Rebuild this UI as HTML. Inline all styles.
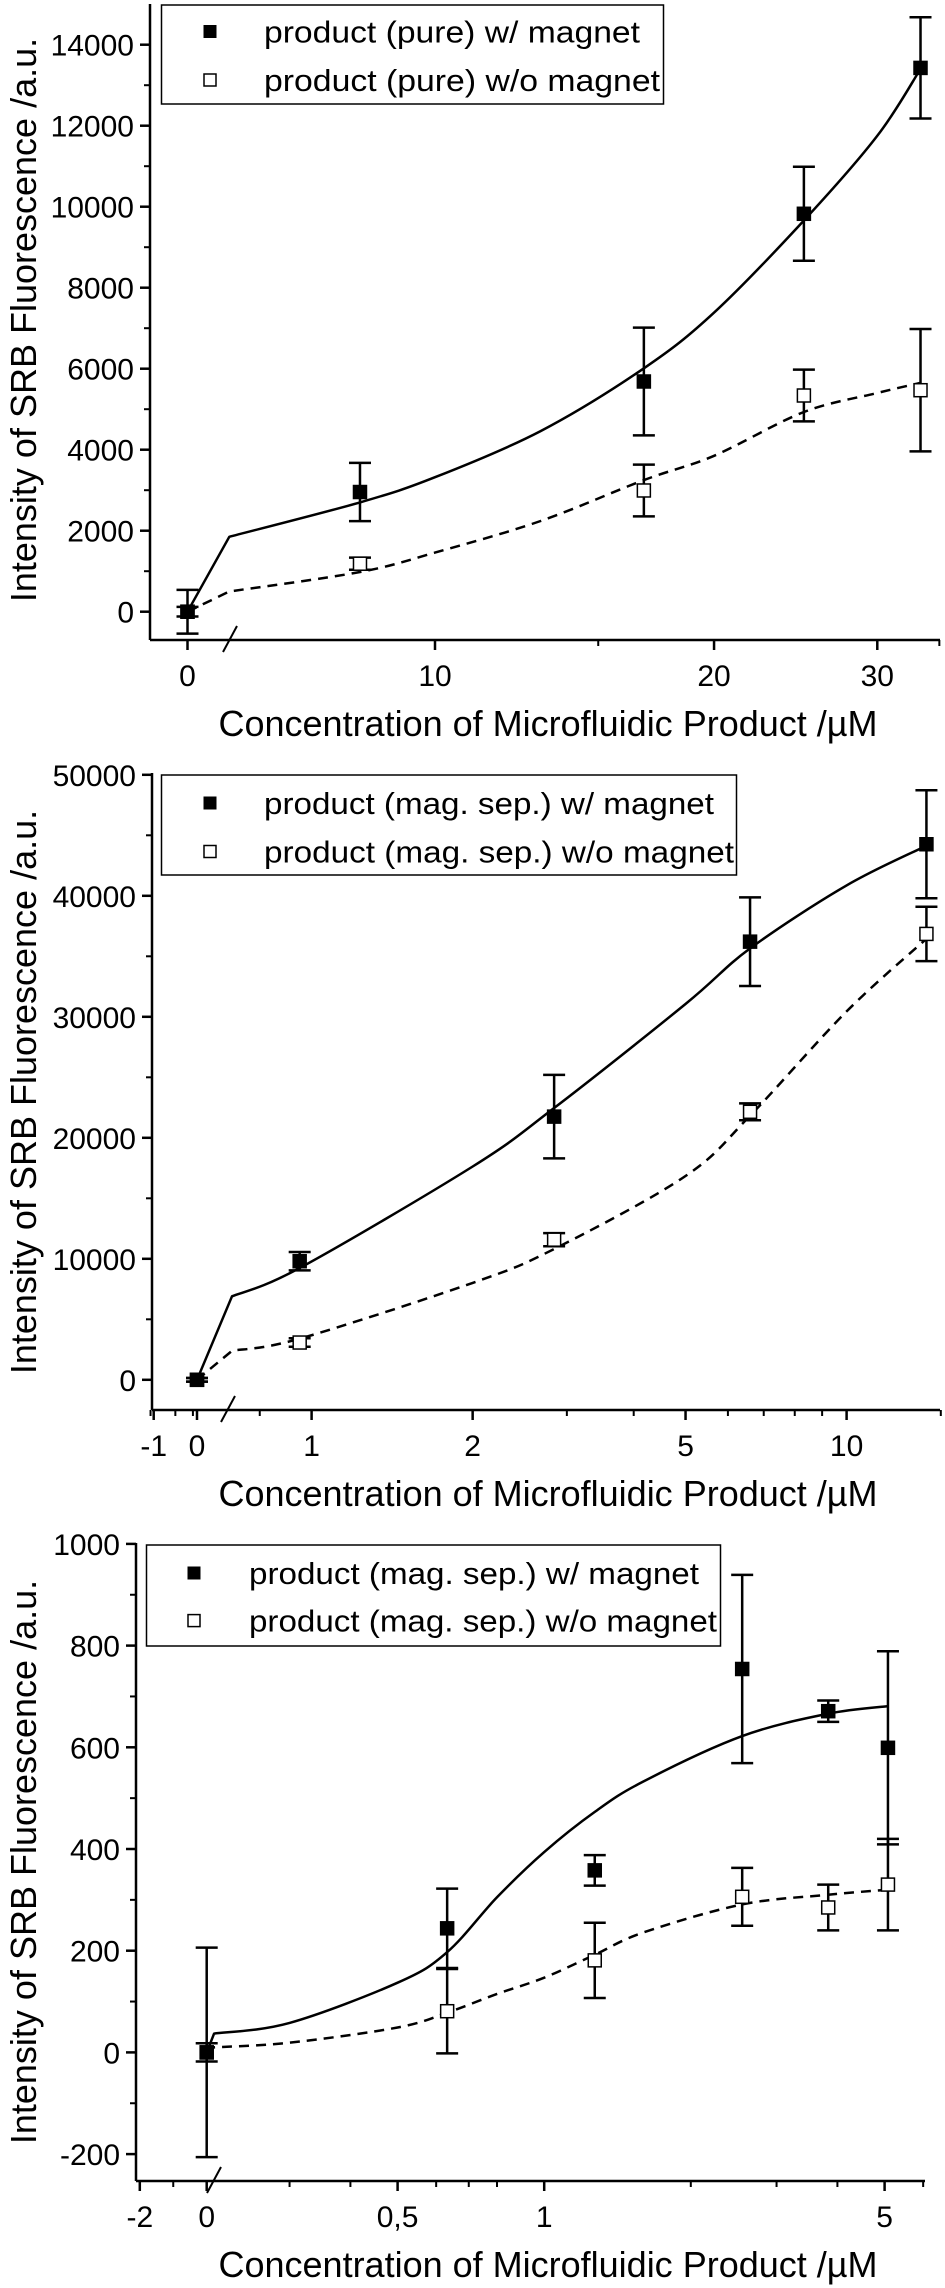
<!DOCTYPE html>
<html><head><meta charset="utf-8"><style>
html,body{margin:0;padding:0;background:#fff}
svg{display:block}
text{font-family:"Liberation Sans",sans-serif;fill:#000}
</style></head><body>
<svg id="c" width="945" height="2288" viewBox="0 0 945 2288" xmlns="http://www.w3.org/2000/svg"></svg>
<script>
// ---- Panel 1 data (pure product) ----
const p1X = [0, 8.3, 16.8, 25, 33.4];
const p1With = [0, 2955, 5684, 9825, 13427];
const p1WithErr = [540, 720, 1330, 1160, 1250];
const p1Without = [0, 1185, 2993, 5338, 5469];
const p1WithoutErr = [120, 150, 640, 640, 1510];
const p1FitX = [0, 6, 8.3, 10, 13, 16.8, 20, 25, 30, 33.4];
const p1FitWith = [0, 1850, 2700, 3320, 4460, 6010, 7385, 9660, 11750, 13400];
const p1FitWithout = [0, 500, 980, 1460, 2240, 3250, 3850, 4930, 5400, 5650];
const p1YTicks = [0, 2000, 4000, 6000, 8000, 10000, 12000, 14000];
const p1XTicks = [0, 10, 20, 30];
// ---- Panel 2 data (mag. sep.) ----
const p2X = [0, 0.95, 2.84, 6.6, 14.1];
const p2With = [0, 9800, 21750, 36210, 44260];
const p2WithErr = [150, 760, 3450, 3660, 4460];
const p2Without = [0, 3080, 11580, 22150, 36850];
const p2WithoutErr = [150, 350, 540, 700, 2250];
const p2FitX = [0, 0.71, 0.95, 2, 2.84, 5, 6.6, 10, 14.1];
const p2FitWith = [0, 6900, 9240, 17630, 22460, 31060, 35650, 40860, 44140];
const p2FitWithout = [0, 2400, 3400, 8010, 10810, 16840, 21830, 30450, 36450];
const p2YTicks = [0, 10000, 20000, 30000, 40000, 50000];
const p2XTicks = [-1, 0, 1, 2, 5, 10];
// ---- Panel 3 data (mag. sep., low) ----
const p3X = [0, 0.632, 1.27, 2.55, 3.83, 5.08];
const p3With = [0, 244, 358, 754, 671, 599];
const p3WithErr = [206, 78, 30, 185, 21, 190];
const p3Without = [0, 81, 181, 306, 285, 330];
const p3WithoutErr = [18, 83, 74, 57, 45, 90];
const p3FitX = [0, 0.21, 0.3, 0.5, 0.632, 0.8, 1, 1.27, 1.6, 2.55, 3.83, 5.08];
const p3FitWith = [0, 37, 58, 137, 197, 305, 394, 473, 533, 622, 666, 681];
const p3FitWithout = [0, 10, 19, 49, 78, 115, 147, 192, 236, 291, 310, 320];
const p3YTicks = [-200, 0, 200, 400, 600, 800, 1000];
const p3XTicks = [-2, 0, 0.5, 1, 5];

const NS = "http://www.w3.org/2000/svg";
const svg = document.getElementById('c');
function mk(tag, attrs, parent, txt) {
  const e = document.createElementNS(NS, tag);
  for (const k in attrs) e.setAttribute(k, attrs[k]);
  if (txt !== undefined) e.textContent = txt;
  (parent || svg).appendChild(e);
  return e;
}

function smoothPath(pts) {
  // first segment straight, rest Catmull-Rom
  let d = 'M' + pts[0][0].toFixed(1) + ',' + pts[0][1].toFixed(1) + ' L' + pts[1][0].toFixed(1) + ',' + pts[1][1].toFixed(1);
  for (let i = 1; i < pts.length - 1; i++) {
    const p0 = pts[Math.max(1, i - 1)], p1 = pts[i], p2 = pts[i + 1], p3 = pts[Math.min(pts.length - 1, i + 2)];
    const c1x = p1[0] + (p2[0] - p0[0]) / 6, c1y = p1[1] + (p2[1] - p0[1]) / 6;
    const c2x = p2[0] - (p3[0] - p1[0]) / 6, c2y = p2[1] - (p3[1] - p1[1]) / 6;
    d += ` C${c1x.toFixed(1)},${c1y.toFixed(1)} ${c2x.toFixed(1)},${c2y.toFixed(1)} ${p2[0].toFixed(1)},${p2[1].toFixed(1)}`;
  }
  return d;
}

function panel(cfg) {
  const g = mk('g', {});
  
  
  const xs = v => {
    if (v <= 0) return cfg.x0 + v * cfg.linPx;
    return cfg.refPx + (Math.log10(v) - Math.log10(cfg.refV)) * cfg.decPx;
  };
  const ys = v => cfg.y0 - v * cfg.yPx;
  const axisX = cfg.axL, axisY = cfg.axY;
  const ya = mk('line', {x1: axisX, y1: cfg.axTop, x2: axisX, y2: axisY, stroke: '#000', 'stroke-width': 2.5}, g);
   
  const xa = mk('line', {x1: axisX, y1: axisY, x2: cfg.axR, y2: axisY, stroke: '#000', 'stroke-width': 2.5}, g);
   
  cfg.yTicks.forEach(v => {
    const y = ys(v);
    mk('line', {x1: axisX - 10, y1: y, x2: axisX, y2: y, stroke: '#000', 'stroke-width': 2.5}, g);
    const t = mk('text', {x: axisX - 16, y: y + 11, 'text-anchor': 'end', 'font-size': 30}, g, String(v));
     
  });
  for (let i = 0; i < cfg.yTicks.length - 1; i++) {
    const y = ys((cfg.yTicks[i] + cfg.yTicks[i + 1]) / 2);
    mk('line', {x1: axisX - 6, y1: y, x2: axisX, y2: y, stroke: '#000', 'stroke-width': 2}, g);
  }
  cfg.xTicks.forEach((v, i) => {
    const x = xs(v);
    mk('line', {x1: x, y1: axisY, x2: x, y2: axisY + 10, stroke: '#000', 'stroke-width': 2.5}, g);
    const t = mk('text', {x: x, y: axisY + 46, 'text-anchor': 'middle', 'font-size': 30}, g, cfg.xLabels[i]);
     
  });
  cfg.xMinor.forEach(v => {
    const x = xs(v);
    mk('line', {x1: x, y1: axisY, x2: x, y2: axisY + 6, stroke: '#000', 'stroke-width': 2}, g);
  });
  const b = mk('line', {x1: cfg.brk - 7, y1: axisY + 12, x2: cfg.brk + 7, y2: axisY - 14, stroke: '#000', 'stroke-width': 2}, g);
   
  const yt = mk('text', {x: 0, y: 0, 'text-anchor': 'middle', 'font-size': 36, transform: `translate(${cfg.yTitleX},${cfg.yTitleY}) rotate(-90)`}, g, 'Intensity of SRB Fluorescence /a.u.');
   
  const xt = mk('text', {x: 548, y: axisY + 96, 'text-anchor': 'middle', 'font-size': 36}, g, 'Concentration of Microfluidic Product /\u00b5M');
   
  const pts = (xa, ya2) => xa.map((v, i) => [xs(v), ys(ya2[i])]);
  const f1 = mk('path', {d: smoothPath(pts(cfg.fitX, cfg.fitWith)), fill: 'none', stroke: '#000', 'stroke-width': 2.5, 'stroke-linejoin': 'round'}, g);
   
  const f2 = mk('path', {d: smoothPath(pts(cfg.fitX, cfg.fitWithout)), fill: 'none', stroke: '#000', 'stroke-width': 2.5, 'stroke-dasharray': '10,7'}, g);
   
  const series = (vals, errs, filled, nm) => {
    cfg.x.forEach((xv, i) => {
      const x = xs(xv), y = ys(vals[i]), yh = ys(vals[i] + errs[i]), yl = ys(vals[i] - errs[i]);
      const eb = mk('path', {d: `M${x},${yh} L${x},${yl} M${x - 11},${yh} L${x + 11},${yh} M${x - 11},${yl} L${x + 11},${yl}`, stroke: '#000', 'stroke-width': 2.5, fill: 'none'}, g);
       
      const r = mk('rect', {x: x - 6.5, y: y - 6.5, width: 13, height: 13, fill: filled ? '#000' : '#fff', stroke: '#000', 'stroke-width': 1.5}, g);
       
    });
  };
  series(cfg.without, cfg.withoutErr, false, 'without-magnet');
  series(cfg.with, cfg.withErr, true, 'with-magnet');
  const L = cfg.leg;
  const lg = mk('g', {}, g);
   
  mk('rect', {x: L.x, y: L.y, width: L.w, height: L.h, fill: '#fff', stroke: '#000', 'stroke-width': 1.5}, lg);
  const e1 = mk('g', {}, lg);
   
  mk('rect', {x: L.mx - 6.5, y: L.r1 - 6.5, width: 13, height: 13, fill: '#000'}, e1);
  mk('text', {x: L.tx, y: L.r1 + 11, 'font-size': 31, textLength: L.tl1, lengthAdjust: 'spacingAndGlyphs'}, e1, cfg.lab1);
  const e2 = mk('g', {}, lg);
   
  mk('rect', {x: L.mx - 6, y: L.r2 - 6, width: 12, height: 12, fill: '#fff', stroke: '#000', 'stroke-width': 1.5}, e2);
  mk('text', {x: L.tx, y: L.r2 + 11, 'font-size': 31, textLength: L.tl2, lengthAdjust: 'spacingAndGlyphs'}, e2, cfg.lab2);
}

panel({name: 'chart-pure-product', x0: 187.5, linPx: 0, refV: 10, refPx: 435, decPx: 927,
  y0: 611.7, yPx: 0.0405, axL: 150, axR: 940, axY: 640, axTop: 4, brk: 230,
  yTicks: p1YTicks, xTicks: p1XTicks, xLabels: ['0', '10', '20', '30'], xMinor: [15, 35],
  yTitleX: 36, yTitleY: 320,
  x: p1X, with: p1With, withErr: p1WithErr, without: p1Without, withoutErr: p1WithoutErr,
  fitX: p1FitX, fitWith: p1FitWith, fitWithout: p1FitWithout,
  leg: {x: 161.5, y: 5, w: 502, h: 99, mx: 210, tx: 264, r1: 31.5, r2: 80, tl1: 376, tl2: 396},
  lab1: 'product (pure) w/ magnet', lab2: 'product (pure) w/o magnet'});

panel({name: 'chart-mag-sep-product', x0: 197, linPx: 43.3, refV: 1, refPx: 311.6, decPx: 535,
  y0: 1379.8, yPx: 0.0121, axL: 152, axR: 940, axY: 1410, axTop: 773, brk: 228,
  yTicks: p2YTicks, xTicks: p2XTicks, xLabels: ['-1', '0', '1', '2', '5', '10'], xMinor: [-0.5, 0.5, 0.6, 0.8, 3, 4, 6, 7, 8, 9, 15],
  yTitleX: 36, yTitleY: 1092,
  x: p2X, with: p2With, withErr: p2WithErr, without: p2Without, withoutErr: p2WithoutErr,
  fitX: p2FitX, fitWith: p2FitWith, fitWithout: p2FitWithout,
  leg: {x: 161.5, y: 775, w: 575, h: 100, mx: 210, tx: 264, r1: 803, r2: 851.5, tl1: 450, tl2: 470},
  lab1: 'product (mag. sep.) w/ magnet', lab2: 'product (mag. sep.) w/o magnet'});

panel({name: 'chart-mag-sep-low', x0: 206.7, linPx: 33.45, refV: 1, refPx: 544.2, decPx: 487,
  y0: 2052.4, yPx: 0.5085, axL: 136, axR: 925, axY: 2181, axTop: 1543, brk: 214,
  yTicks: p3YTicks, xTicks: p3XTicks, xLabels: ['-2', '0', '0,5', '1', '5'], xMinor: [-1, 0.3, 0.4, 0.6, 0.7, 0.8, 2, 3, 4, 6],
  yTitleX: 36, yTitleY: 1862,
  x: p3X, with: p3With, withErr: p3WithErr, without: p3Without, withoutErr: p3WithoutErr,
  fitX: p3FitX, fitWith: p3FitWith, fitWithout: p3FitWithout,
  leg: {x: 146.5, y: 1545, w: 574, h: 101, mx: 194, tx: 249, r1: 1573, r2: 1620.6, tl1: 450, tl2: 468},
  lab1: 'product (mag. sep.) w/ magnet', lab2: 'product (mag. sep.) w/o magnet'});
</script>
</body></html>
